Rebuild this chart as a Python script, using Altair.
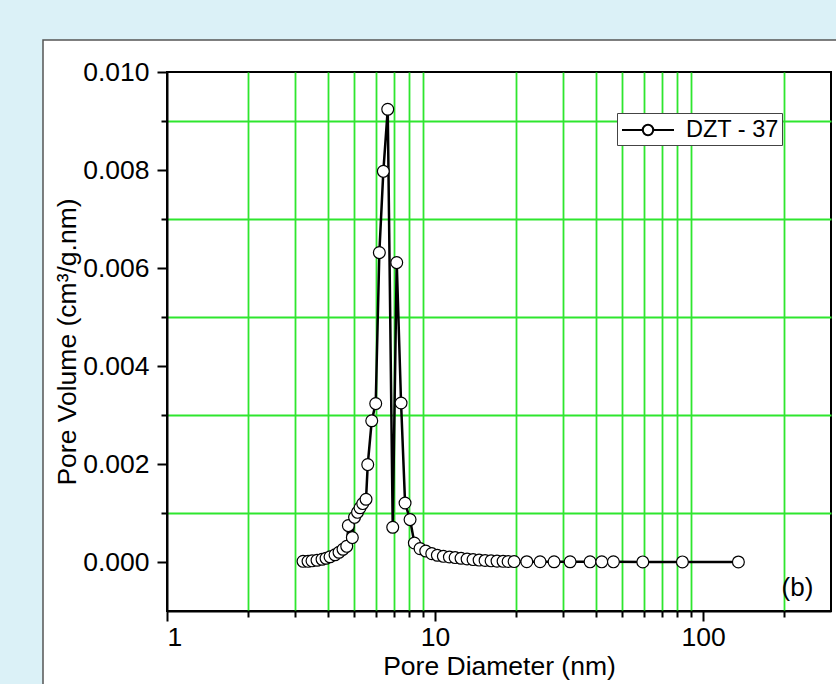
import altair as alt
import pandas as pd

# ---------------- data ----------------
series_name = "DZT - 37"
diameter = [3.217, 3.358, 3.475, 3.628, 3.788, 3.920, 4.057, 4.235, 4.383, 4.536,
            4.683, 4.748, 4.914, 5.008, 5.138, 5.250, 5.373, 5.527, 5.609, 5.805,
            6.007, 6.197, 6.413, 6.660, 6.952, 7.195, 7.468, 7.729, 8.068, 8.372,
            8.790, 9.232, 9.721, 10.20, 10.74, 11.31, 11.88, 12.50, 13.17, 13.86,
            14.60, 15.37, 16.18, 17.03, 17.94, 18.73, 19.72, 21.99, 24.65, 27.80,
            31.90, 37.87, 41.88, 46.28, 59.57, 83.72, 135.4]
volume = [0.000014, 0.000014, 0.000024, 0.000035, 0.000055, 0.000076, 0.000106, 0.000147, 0.000198, 0.000259,
          0.000320, 0.000743, 0.000498, 0.000912, 0.001014, 0.001106, 0.001192, 0.001280, 0.001988, 0.002882,
          0.003233, 0.006314, 0.007973, 0.009239, 0.000708, 0.006110, 0.003245, 0.001204, 0.000865, 0.000388,
          0.000273, 0.000224, 0.000171, 0.000137, 0.000116, 0.000102, 0.000090, 0.000076, 0.000061, 0.000049,
          0.000039, 0.000031, 0.000024, 0.000018, 0.000014, 0.000010, 0.000008, 0.000006, 0.000005, 0.000004,
          0.000004, 0.000003, 0.000003, 0.000003, 0.000002, 0.000002, 0.000001]

x_domain = [1, 300]
y_domain = [-0.001, 0.010]
x_ticks = [1, 2, 3, 4, 5, 6, 7, 8, 9, 10, 20, 30, 40, 50, 60, 70, 80, 90, 100, 200]
x_labeled = [1, 10, 100]
y_ticks = [0.000, 0.001, 0.002, 0.003, 0.004, 0.005, 0.006, 0.007, 0.008, 0.009, 0.010]
panel_label = "(b)"
panel_label_pos = [225, -0.00054]

x_title = "Pore Diameter (nm)"
y_title = "Pore Volume (cm\u00b3/g.nm)"

# ---------------- styling ----------------
FONT = "Liberation Sans"
GREEN = "#2ee62e"
BLUE_BG = "#dbf1f7"
W, H = 664, 539
PAD = {"left": 167, "top": 72, "right": 5, "bottom": 73}

df = pd.DataFrame({"d": diameter, "v": volume, "series": [series_name] * len(diameter)})

x_major = "abs(log(datum.value)/LN10 - round(log(datum.value)/LN10)) < 0.001"
y_major = "abs(round(datum.value*1000) % 2) < 0.5"
x_label_expr = " || ".join(f"datum.value == {v}" for v in x_labeled)

x_scale = alt.Scale(type="log", domain=x_domain, nice=False)
y_scale = alt.Scale(domain=y_domain, nice=False, zero=False)

x_axis = alt.Axis(
    values=x_ticks, title=x_title, grid=True, gridColor=GREEN, gridWidth=1.8,
    gridOpacity={"condition": {"test": x_major, "value": 0}, "value": 1},
    tickSize={"condition": {"test": x_major, "value": 10}, "value": 6},
    tickColor="black", tickWidth=2, domainColor="black", domainWidth=2,
    labelExpr=f"({x_label_expr}) ? format(datum.value, 'd') : ''",
    labelOverlap=False, labelFont=FONT, labelFontSize=26.5, labelColor="black", labelPadding=3,
    titleFont=FONT, titleFontSize=26.5, titleFontWeight="normal", titleColor="black", titlePadding=3,
)
y_axis = alt.Axis(
    values=y_ticks, title=y_title, grid=True, gridColor=GREEN, gridWidth=1.8,
    gridOpacity={"condition": {"test": y_major, "value": 0}, "value": 1},
    tickSize={"condition": {"test": y_major, "value": 10}, "value": 6},
    tickColor="black", tickWidth=2, domainColor="black", domainWidth=2,
    labelExpr=f"({y_major}) ? format(datum.value, '.3f') : ''",
    labelOverlap=False, labelFont=FONT, labelFontSize=26.5, labelColor="black", labelPadding=8,
    titleFont=FONT, titleFontSize=26.5, titleFontWeight="normal", titleColor="black", titlePadding=1,
)

legend_symbol = "M-2,0H-0.42M0.42,0H2M0.4,0A0.4,0.4,0,1,1,-0.4,0A0.4,0.4,0,1,1,0.4,0"

line = alt.Chart(df).mark_line(strokeWidth=2.5).encode(
    x=alt.X("d:Q", scale=x_scale, axis=x_axis),
    y=alt.Y("v:Q", scale=y_scale, axis=y_axis),
    color=alt.Color("series:N", scale=alt.Scale(range=["black"]),
                    legend=alt.Legend(orient="none", legendX=450, legendY=41, title=None,
                                      symbolType=legend_symbol, symbolSize=676,
                                      symbolStrokeWidth=2, symbolFillColor="white",
                                      symbolStrokeColor="black", symbolOffset=14,
                                      labelOffset=24, labelFont=FONT, labelFontSize=23.5,
                                      labelColor="black", padding=3, strokeColor="#444",
                                      fillColor="white")),
)

points = alt.Chart(df).mark_point(shape="circle", filled=True, fill="white", stroke="black",
                                  strokeWidth=1.2, size=140, opacity=1).encode(
    x=alt.X("d:Q", scale=x_scale),
    y=alt.Y("v:Q", scale=y_scale),
)

label_df = pd.DataFrame({"d": [panel_label_pos[0]], "v": [panel_label_pos[1]], "t": [panel_label]})
label = alt.Chart(label_df).mark_text(font=FONT, fontSize=26, color="black", align="center",
                                      baseline="middle").encode(
    x=alt.X("d:Q", scale=x_scale), y=alt.Y("v:Q", scale=y_scale), text="t:N")

one = pd.DataFrame({"k": [0]})
# light-blue margin around the white panel and the panel's grey border
blue_left = alt.Chart(one).mark_rect(color=BLUE_BG, clip=False).encode(
    x=alt.value(-PAD["left"]), x2=alt.value(-124), y=alt.value(-PAD["top"]), y2=alt.value(H + PAD["bottom"]))
blue_top = alt.Chart(one).mark_rect(color=BLUE_BG, clip=False).encode(
    x=alt.value(-PAD["left"]), x2=alt.value(W + PAD["right"]), y=alt.value(-PAD["top"]), y2=alt.value(-32))
border = alt.Chart(one).mark_rect(fill=None, stroke="#555555", strokeWidth=1.5, clip=False).encode(
    x=alt.value(-124), x2=alt.value(W + PAD["right"] + 20), y=alt.value(-32),
    y2=alt.value(H + PAD["bottom"] + 20))

chart = alt.layer(blue_left, blue_top, border, line, points, label).properties(
    width=W, height=H, padding=PAD, autosize=alt.AutoSizeParams(type="none"),
    background="white",
).configure_view(stroke="black", strokeWidth=2)

chart.save("out.html", embed_options={"renderer": "svg", "actions": False})
